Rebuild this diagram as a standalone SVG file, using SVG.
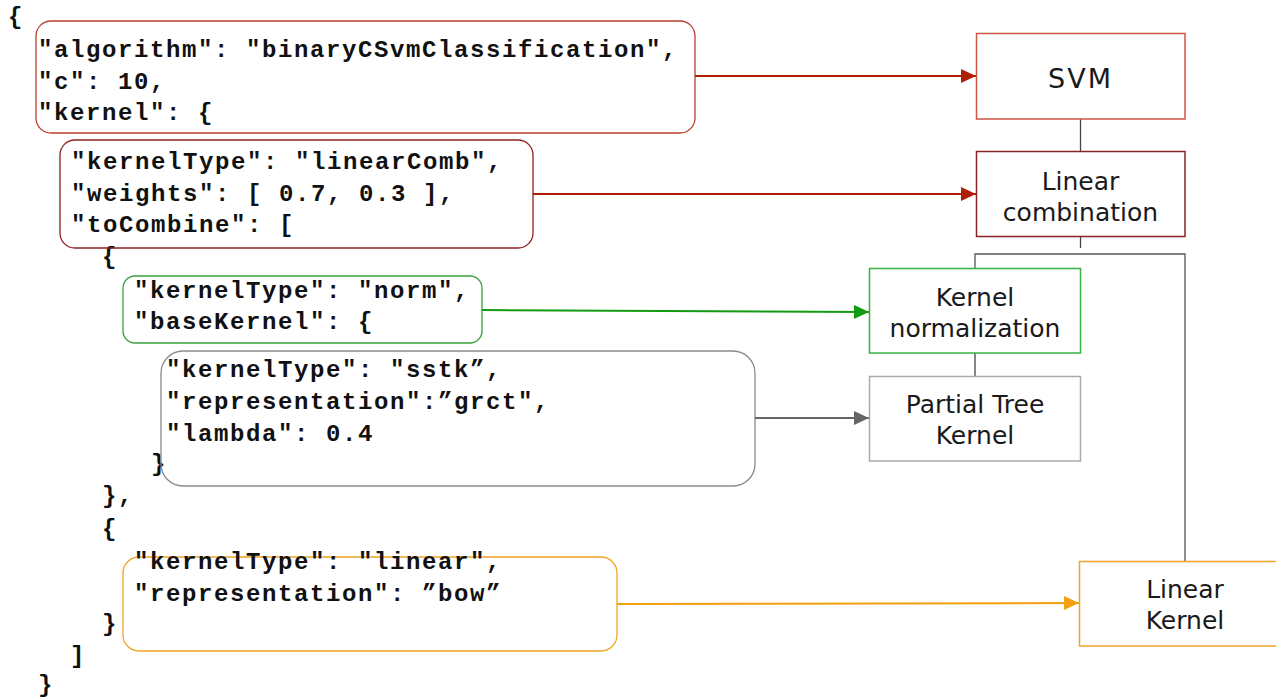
<svg xmlns="http://www.w3.org/2000/svg" width="1276" height="699" viewBox="0 0 1276 699">
<style>
.code{font-family:"Liberation Mono","Courier New",monospace;font-weight:bold;font-size:24px;letter-spacing:1.6px;fill:#111;white-space:pre}
.lbl{font-family:"DejaVu Sans","Liberation Sans",sans-serif;font-size:25px;fill:#1a1a1a;text-anchor:middle}
.cbox{fill:none;stroke-width:1.3}
.nbox{fill:#fff;stroke-width:1.5}
.link{fill:none;stroke:#444;stroke-width:1.3}
</style>
<defs>
<marker id="aRed" markerUnits="userSpaceOnUse" markerWidth="16" markerHeight="16" refX="15" refY="7" orient="auto"><path d="M0,0 L15,7 L0,14 Z" fill="#b01e05"/></marker>
<marker id="aGreen" markerUnits="userSpaceOnUse" markerWidth="16" markerHeight="16" refX="15" refY="7" orient="auto"><path d="M0,0 L15,7 L0,14 Z" fill="#129a12"/></marker>
<marker id="aGray" markerUnits="userSpaceOnUse" markerWidth="16" markerHeight="16" refX="15" refY="7" orient="auto"><path d="M0,0 L15,7 L0,14 Z" fill="#666"/></marker>
<marker id="aOrange" markerUnits="userSpaceOnUse" markerWidth="16" markerHeight="16" refX="15" refY="7" orient="auto"><path d="M0,0 L15,7 L0,14 Z" fill="#f0a010"/></marker>
</defs>
<rect width="1276" height="699" fill="#fff"/>

<g id="json-text">
<text class="code" x="8" y="24">{</text>
<text class="code" x="102" y="264">{</text>
<text class="code" x="151" y="471">}</text>
<text class="code" x="102" y="503">},</text>
<text class="code" x="102" y="536">{</text>
<text class="code" x="102" y="631">}</text>
<text class="code" x="70" y="663">]</text>
<text class="code" x="38" y="692">}</text>
</g>

<g id="code-svm">
<rect class="cbox" x="36" y="21" width="659" height="112" rx="15" stroke="#b8402f"/>
<text class="code" x="38" y="57">"algorithm": "binaryCSvmClassification",</text>
<text class="code" x="38" y="89">"c": 10,</text>
<text class="code" x="38" y="120">"kernel": {</text>
</g>

<g id="code-lincomb">
<rect class="cbox" x="60" y="140" width="473" height="108" rx="15" stroke="#8e2020"/>
<text class="code" x="71" y="169">"kernelType": "linearComb",</text>
<text class="code" x="71" y="201">"weights": [ 0.7, 0.3 ],</text>
<text class="code" x="71" y="232">"toCombine": [</text>
</g>

<g id="code-norm">
<rect class="cbox" x="123" y="276" width="359" height="67" rx="12" stroke="#3aa03a"/>
<text class="code" x="134" y="298">"kernelType": "norm",</text>
<text class="code" x="134" y="329">"baseKernel": {</text>
</g>

<g id="code-sstk">
<rect class="cbox" x="161" y="351" width="594" height="135" rx="22" stroke="#8a8a8a"/>
<text class="code" x="166" y="377">"kernelType": "sstk”,</text>
<text class="code" x="166" y="409">"representation":”grct",</text>
<text class="code" x="166" y="441">"lambda": 0.4</text>
</g>

<g id="code-linear">
<rect class="cbox" x="123" y="557" width="494" height="94" rx="16" stroke="#f0a428"/>
<text class="code" x="134" y="569">"kernelType": "linear",</text>
<text class="code" x="134" y="601">"representation": ”bow”</text>
</g>

<g id="connectors">
<line x1="1080.5" y1="119" x2="1080.5" y2="151" class="link"/>
<line x1="1080.5" y1="236" x2="1080.5" y2="248" class="link"/>
<polyline points="975,268 975,254 1185,254 1185,561" fill="none" stroke="#555" stroke-width="1.3"/>
<line x1="975" y1="353" x2="975" y2="376" class="link"/>
<line x1="695" y1="76" x2="976" y2="76" stroke="#b01e05" stroke-width="2" marker-end="url(#aRed)"/>
<line x1="533" y1="194" x2="976" y2="194" stroke="#b01e05" stroke-width="2" marker-end="url(#aRed)"/>
<line x1="482" y1="310" x2="869" y2="312" stroke="#129a12" stroke-width="2" marker-end="url(#aGreen)"/>
<line x1="755" y1="418" x2="869" y2="418" stroke="#666" stroke-width="2" marker-end="url(#aGray)"/>
<line x1="617" y1="604" x2="1079" y2="603" stroke="#f0a010" stroke-width="2" marker-end="url(#aOrange)"/>
</g>

<g id="node-svm">
<rect class="nbox" x="976.5" y="33.5" width="208.5" height="85.5" stroke="#cc5548"/>
<text class="lbl" x="1080.5" y="88" style="font-size:27px;letter-spacing:2px">SVM</text>
</g>
<g id="node-lincomb">
<rect class="nbox" x="976.5" y="151.5" width="208.5" height="85" stroke="#8b2323"/>
<text class="lbl" x="1080.5" y="190">Linear</text>
<text class="lbl" x="1080.5" y="221">combination</text>
</g>
<g id="node-norm">
<rect class="nbox" x="869.5" y="268.5" width="211" height="84.5" stroke="#3cb043"/>
<text class="lbl" x="975" y="306">Kernel</text>
<text class="lbl" x="975" y="337">normalization</text>
</g>
<g id="node-ptk">
<rect class="nbox" x="869.5" y="376.5" width="211" height="84.5" stroke="#aaa"/>
<text class="lbl" x="975" y="413">Partial Tree</text>
<text class="lbl" x="975" y="444">Kernel</text>
</g>
<g id="node-linear">
<rect class="nbox" x="1079.5" y="561.5" width="212" height="84.5" stroke="#f0a428"/>
<text class="lbl" x="1185" y="598">Linear</text>
<text class="lbl" x="1185" y="629">Kernel</text>
</g>
</svg>
